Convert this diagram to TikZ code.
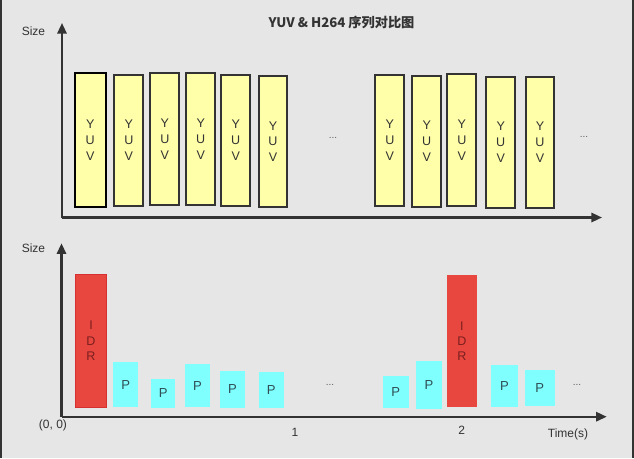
\documentclass[tikz,border=0pt]{standalone}
\usepackage{fontspec}
\setmainfont{Liberation Sans}
\newfontfamily\cjk{Noto Sans CJK SC}
\usetikzlibrary{arrows.meta}
\definecolor{bg}{HTML}{E6E6E6}
\definecolor{ink}{HTML}{333333}
\definecolor{yuvfill}{HTML}{FFFFAA}
\definecolor{pfill}{HTML}{80FFFF}
\definecolor{idrfill}{HTML}{E8473F}
\definecolor{idredge}{HTML}{D63030}
\definecolor{idrtext}{HTML}{7A1F1F}
\definecolor{ptext}{HTML}{2F4F55}
\begin{document}
\begin{tikzpicture}[x=0.75pt,y=-0.75pt,
  sz/.style 2 args={minimum width=#1*0.75pt,minimum height=#2*0.75pt},
  frame/.style={inner sep=0pt,outer sep=0pt,rectangle},
  yuvbox/.style={frame,fill=yuvfill,draw=ink,line width=1.3pt,text=ink,align=center,
     font=\fontsize{9.4}{11.8}\selectfont},
  idrbox/.style={frame,fill=idrfill,text=idrtext,align=center,
     font=\fontsize{9.4}{11.6}\selectfont},
  pbox/.style={frame,fill=pfill,text=ptext,font=\fontsize{9.8}{11}\selectfont},
  axis/.style={draw=ink,line width=1.6pt,-{Triangle[length=8pt,width=7pt]}},
  lbl/.style={text=ink,font=\fontsize{9}{10}\selectfont,inner sep=0pt},
  dots/.style={text=ink!80,font=\fontsize{7.5}{8}\selectfont,inner sep=0pt}]
\useasboundingbox (0,0) rectangle (634,458);
\fill[bg] (0,0) rectangle (634,458);
\draw[ink,line width=1.5pt] (1,0) -- (1,458);
\draw[ink,line width=1.5pt] (632.5,0) -- (632.5,458);

% title
\node[text=ink,font=\cjk\bfseries\fontsize{9.9}{11}\selectfont,inner sep=0pt] (title) at (341.5,22) {YUV \& H264 序列对比图};

% top axes
\coordinate (o1) at (62,217.5);
\coordinate (y1) at (62,23);
\coordinate (x1) at (602,217.5);
\draw[axis] (o1) -- (y1);
\draw[axis] (o1) -- (x1);
\node[lbl] (size1) at (33.5,31) {Size};

% YUV boxes
\node[yuvbox,sz={31}{133.4},draw=black,line width=1.7pt] (f1) at (90.2,140) {Y\\U\\V};
\node[yuvbox,sz={29}{131.3}] (f2) at (128.8,140.3) {Y\\U\\V};
\node[yuvbox,sz={29}{131.7}] (f3) at (164.8,139.2) {Y\\U\\V};
\node[yuvbox,sz={28.7}{131.7}] (f4) at (200.7,139.2) {Y\\U\\V};
\node[yuvbox,sz={28.7}{131.3}] (f5) at (235.7,140.3) {Y\\U\\V};
\node[yuvbox,sz={28.6}{131.6}] (f6) at (273,141.5) {Y\\U\\V};
\node[dots] (d1) at (333,138) {...};
\node[yuvbox,sz={29}{131.3}] (f7) at (389.8,140.3) {Y\\U\\V};
\node[yuvbox,sz={28.7}{131}] (f8) at (426.7,141.2) {Y\\U\\V};
\node[yuvbox,sz={29}{131.7}] (f9) at (461.8,140.2) {Y\\U\\V};
\node[yuvbox,sz={28.7}{131}] (f10) at (500.7,142.2) {Y\\U\\V};
\node[yuvbox,sz={28.6}{131}] (f11) at (540,142.2) {Y\\U\\V};
\node[dots] (d2) at (584,137) {...};

% bottom axes
\coordinate (o2) at (61.5,416.7);
\coordinate (y2) at (61.5,243.3);
\coordinate (x2) at (606.7,416.7);
\draw[axis] (o2) -- (y2);
\draw[axis] (o2) -- (x2);
\node[lbl] (size2) at (33.5,248) {Size};
\node[lbl] (orig) at (53,425) {(0, 0)};
\node[lbl] (t1) at (295,432) {1};
\node[lbl] (t2) at (461.7,430) {2};
\node[lbl] (time) at (568,434) {Time(s)};

% frames
\node[idrbox,sz={31.4}{133},draw=idredge,line width=1pt] (i1) at (91,340.8) {I\\D\\R};
\node[pbox,sz={24.7}{44.4}] (p1) at (125.7,384.5) {P};
\node[pbox,sz={24.3}{28.7}] (p2) at (163.2,393.3) {P};
\node[pbox,sz={25}{43.3}] (p3) at (197.5,385.7) {P};
\node[pbox,sz={25}{36.7}] (p4) at (232.5,389.3) {P};
\node[pbox,sz={24.7}{35.7}] (p5) at (271.3,389.8) {P};
\node[dots] (d3) at (330,385) {...};
\node[pbox,sz={25.7}{31.7}] (p6) at (395.8,391.8) {P};
\node[pbox,sz={26}{47.7}] (p7) at (429,384.8) {P};
\node[idrbox,sz={29.7}{132.3}] (i2) at (461.8,341.2) {I\\D\\R};
\node[pbox,sz={27}{41.7}] (p8) at (504.5,385.8) {P};
\node[pbox,sz={29.7}{35.7}] (p9) at (539.8,387.8) {P};
\node[dots] (d4) at (577,385) {...};
\end{tikzpicture}
\end{document}
